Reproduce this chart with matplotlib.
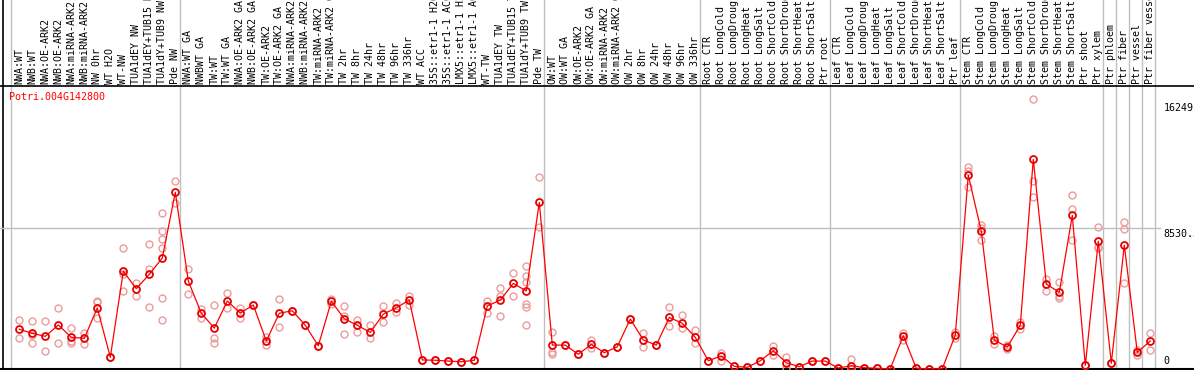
import numpy as np
import matplotlib.pyplot as plt

gene = "Potri.004G142800"

labels = [
    # nw group
    "NWA:WT", "NWB:WT", "NWA:OE-ARK2", "NWB:OE-ARK2", "NWA:miRNA-ARK2", "NWB:miRNA-ARK2",
    "NW 0hr", "WT H2O", "WT-NW", "TUA1dEY NW", "TUA1dEY+TUB15 NW", "TUA1dY+TUB9 NW", "Pde NW",
    # tw group
    "NWA:WT GA", "NWBWT GA", "TW:WT", "TW:WT GA", "NWA:OE-ARK2 GA", "NWB:OE-ARK2 GA",
    "TW:OE-ARK2", "TW:OE-ARK2 GA", "NWA:miRNA-ARK2 GA", "NWB:miRNA-ARK2 GA", "TW:miRNA-ARK2",
    "TW:miRNA-ARK2 GA", "TW 2hr", "TW 8hr", "TW 24hr", "TW 48hr", "TW 96hr", "TW 336hr",
    "WT ACC", "35S::etr1-1 H2O", "35S::etr1-1 ACC", "LMX5::etr1-1 H2O", "LMX5::etr1-1 ACC",
    "WT-TW", "TUA1dEY TW", "TUA1dEY+TUB15 TW", "TUA1dY+TUB9 TW", "Pde TW",
    # ow group
    "OW:WT", "OW:WT GA", "OW:OE-ARK2", "OW:OE-ARK2 GA", "OW:miRNA-ARK2", "OW:miRNA-ARK2 GA",
    "OW 2hr", "OW 8hr", "OW 24hr", "OW 48hr", "OW 96hr", "OW 336hr",
    # root
    "Root CTR", "Root LongCold", "Root LongDrought", "Root LongHeat", "Root LongSalt",
    "Root ShortCold", "Root ShortDrought", "Root ShortHeat", "Root ShortSalt", "Ptr root",
    # leaf
    "Leaf CTR", "Leaf LongCold", "Leaf LongDrought", "Leaf LongHeat", "Leaf LongSalt",
    "Leaf ShortCold", "Leaf ShortDrought", "Leaf ShortHeat", "Leaf ShortSalt", "Ptr leaf",
    # stem
    "Stem CTR", "Stem LongCold", "Stem LongDrought", "Stem LongHeat", "Stem LongSalt",
    "Stem ShortCold", "Stem ShortDrought", "Stem ShortHeat", "Stem ShortSalt", "Ptr shoot",
    "Ptr xylem",
    "Ptr phloem", "Ptr fiber", "Ptr vessel", "Ptr fiber vessel",
]

# first sample index of each group
group_starts = [0, 13, 41, 53, 63, 73, 84, 85, 86, 87]

means = [
    2410, 2160, 1980, 2670, 1920, 1860, 3700, 710, 5920, 4870, 5740, 6730, 10710,
    5330, 3380, 2480, 4120, 3390, 3880, 1700, 3380, 3530, 2650, 1410, 4100, 3050, 2650,
    2220, 3330, 3710, 4180, 550, 530, 480, 440, 530, 3820, 4180, 5190, 4730, 10100,
    1450, 1450, 890, 1500, 990, 1350, 3030, 1760, 1450, 3130, 2770, 1920,
    500, 790, 160, 100, 500, 1110, 380, 140, 480, 480,
    60, 200, 80, 40, 10, 2020, 40, 10, 20, 2060,
    11740, 8360, 1760, 1330, 2650, 12710, 5150, 4650, 9310, 220, 7740,
    350, 7510, 1010, 1700,
]

reps = [
    [2970, 1860], [2890, 2040, 1560], [2890, 1090], [3680, 1580], [2470, 1700, 1560],
    [2200, 1500], [4140, 4040, 3070], [710, 710], [7310, 5740, 4710], [5190, 4440],
    [7560, 6060, 3760], [9440, 8360, 7860, 7310, 4280, 2950], [11370, 10080],
    [6060, 4530], [3620, 3110], [3880, 1900, 1590], [4590, 3680], [3680, 3110],
    [3880, 3880], [1950, 1450], [4220, 2530], [3530, 3530], [2650, 2650], [1410, 1410],
    [4260, 3940], [3820, 3230, 2100], [2970, 2220], [2670, 1900], [3820, 2830],
    [3980, 3470], [4440, 3880], [550, 550], [530, 530], [480, 480], [440, 440],
    [530, 530], [4120, 3410], [4890, 4440, 3210], [5800, 4420],
    [6240, 5650, 5290, 3940, 3780, 2670], [11620, 8620],
    [2260, 1050, 910], [1450, 1450], [890, 890], [1760, 1250], [990, 990], [1350, 1350],
    [3030, 3030], [2160, 1350], [1450, 1450], [3740, 2620], [3270, 2500], [2360, 1560],
    [500, 500], [990, 500], [160, 160], [100, 100], [500, 500], [1390, 850], [700, 60],
    [140, 140], [480, 480], [480, 480],
    [60, 60], [610, 0, 0], [80, 80], [40, 40], [10, 10], [2160, 1760], [40, 40],
    [10, 10], [20, 20], [2220, 1900],
    [12220, 11990, 11050], [8730, 8540, 7820], [2000, 1520], [1470, 1190], [2870, 2430],
    [16400, 11390, 10410], [5450, 4750], [5250, 4440, 4280], [10530, 9700, 7820],
    [220, 220], [8590, 7410, 7310],
    [350, 350], [8930, 8470, 5190], [1170, 850], [2160, 1150],
]

y_max = 16249
y_mid = 8530

W, H = 1194, 370
fig = plt.figure(figsize=(W / 100, H / 100), dpi=100)
plt.rcParams['font.family'] = ['DejaVu Sans Mono']

# pixel layout: header 0..86, plot 86..369
ax = fig.add_axes([0, 1 / H, 1, 283 / H])
hx = fig.add_axes([0, 284 / H, 1, 86 / H], sharex=ax)

x = np.arange(len(labels))
x_lo = -19.3 / 13
x_hi = (W - 19.3) / 13
ax.set_xlim(x_lo, x_hi)
ax.set_ylim(0, 283 * y_max / 268)
hx.set_ylim(0, 1)

for a in (ax, hx):
    a.set_axis_off()
    for g in group_starts + [len(labels)]:
        a.axvline(g - 0.62, color='#c0c0c0', lw=1.0, zorder=0)
    a.axvline(x_lo + 2.5 / 13, color='black', lw=1.2, zorder=0)

# header separator and bottom axis
hx.axhline(0, color='black', lw=1.2, clip_on=False)
ax.axhline(0, color='black', lw=1.5, clip_on=False, zorder=0)
ax.plot([x_lo, (1160 - 19.3) / 13], [y_mid, y_mid], color='#c0c0c0', lw=1.0, zorder=0)

for i, lab in enumerate(labels):
    hx.annotate(lab, xy=(i, 0), xytext=(0, 2), textcoords='offset pixels',
                rotation=90, ha='center', va='bottom', fontsize=7.2, color='black')

# replicates
for i, r in enumerate(reps):
    ax.plot([i] * len(r), r, linestyle='none', marker='o', ms=5.0, mew=1.0,
            mfc='none', mec='#ee9a9a', zorder=1, clip_on=False)

ax.plot(x, means, color='red', lw=0.9, zorder=2, clip_on=False)
ax.plot(x, means, linestyle='none', marker='o', ms=5.0, mew=1.3,
        mfc='none', mec='#e60000', zorder=3, clip_on=False)

ax.annotate(gene, xy=(0, 1), xycoords='axes fraction', xytext=(9, -6),
            textcoords='offset pixels', ha='left', va='top', fontsize=7.2, color='red')

xr = (1163.5 - 19.3) / 13
ax.annotate(str(y_max), xy=(xr, y_max), xytext=(0, -2), textcoords='offset pixels',
            ha='left', va='top', fontsize=7.2, clip_on=False)
ax.annotate("8530.5", xy=(xr, y_mid), xytext=(0, -1), textcoords='offset pixels',
            ha='left', va='top', fontsize=7.2, clip_on=False)
ax.annotate("0", xy=(xr, 0), xytext=(0, 3), textcoords='offset pixels',
            ha='left', va='bottom', fontsize=7.2, clip_on=False)

fig.savefig('out.png', dpi=100, facecolor='white')
